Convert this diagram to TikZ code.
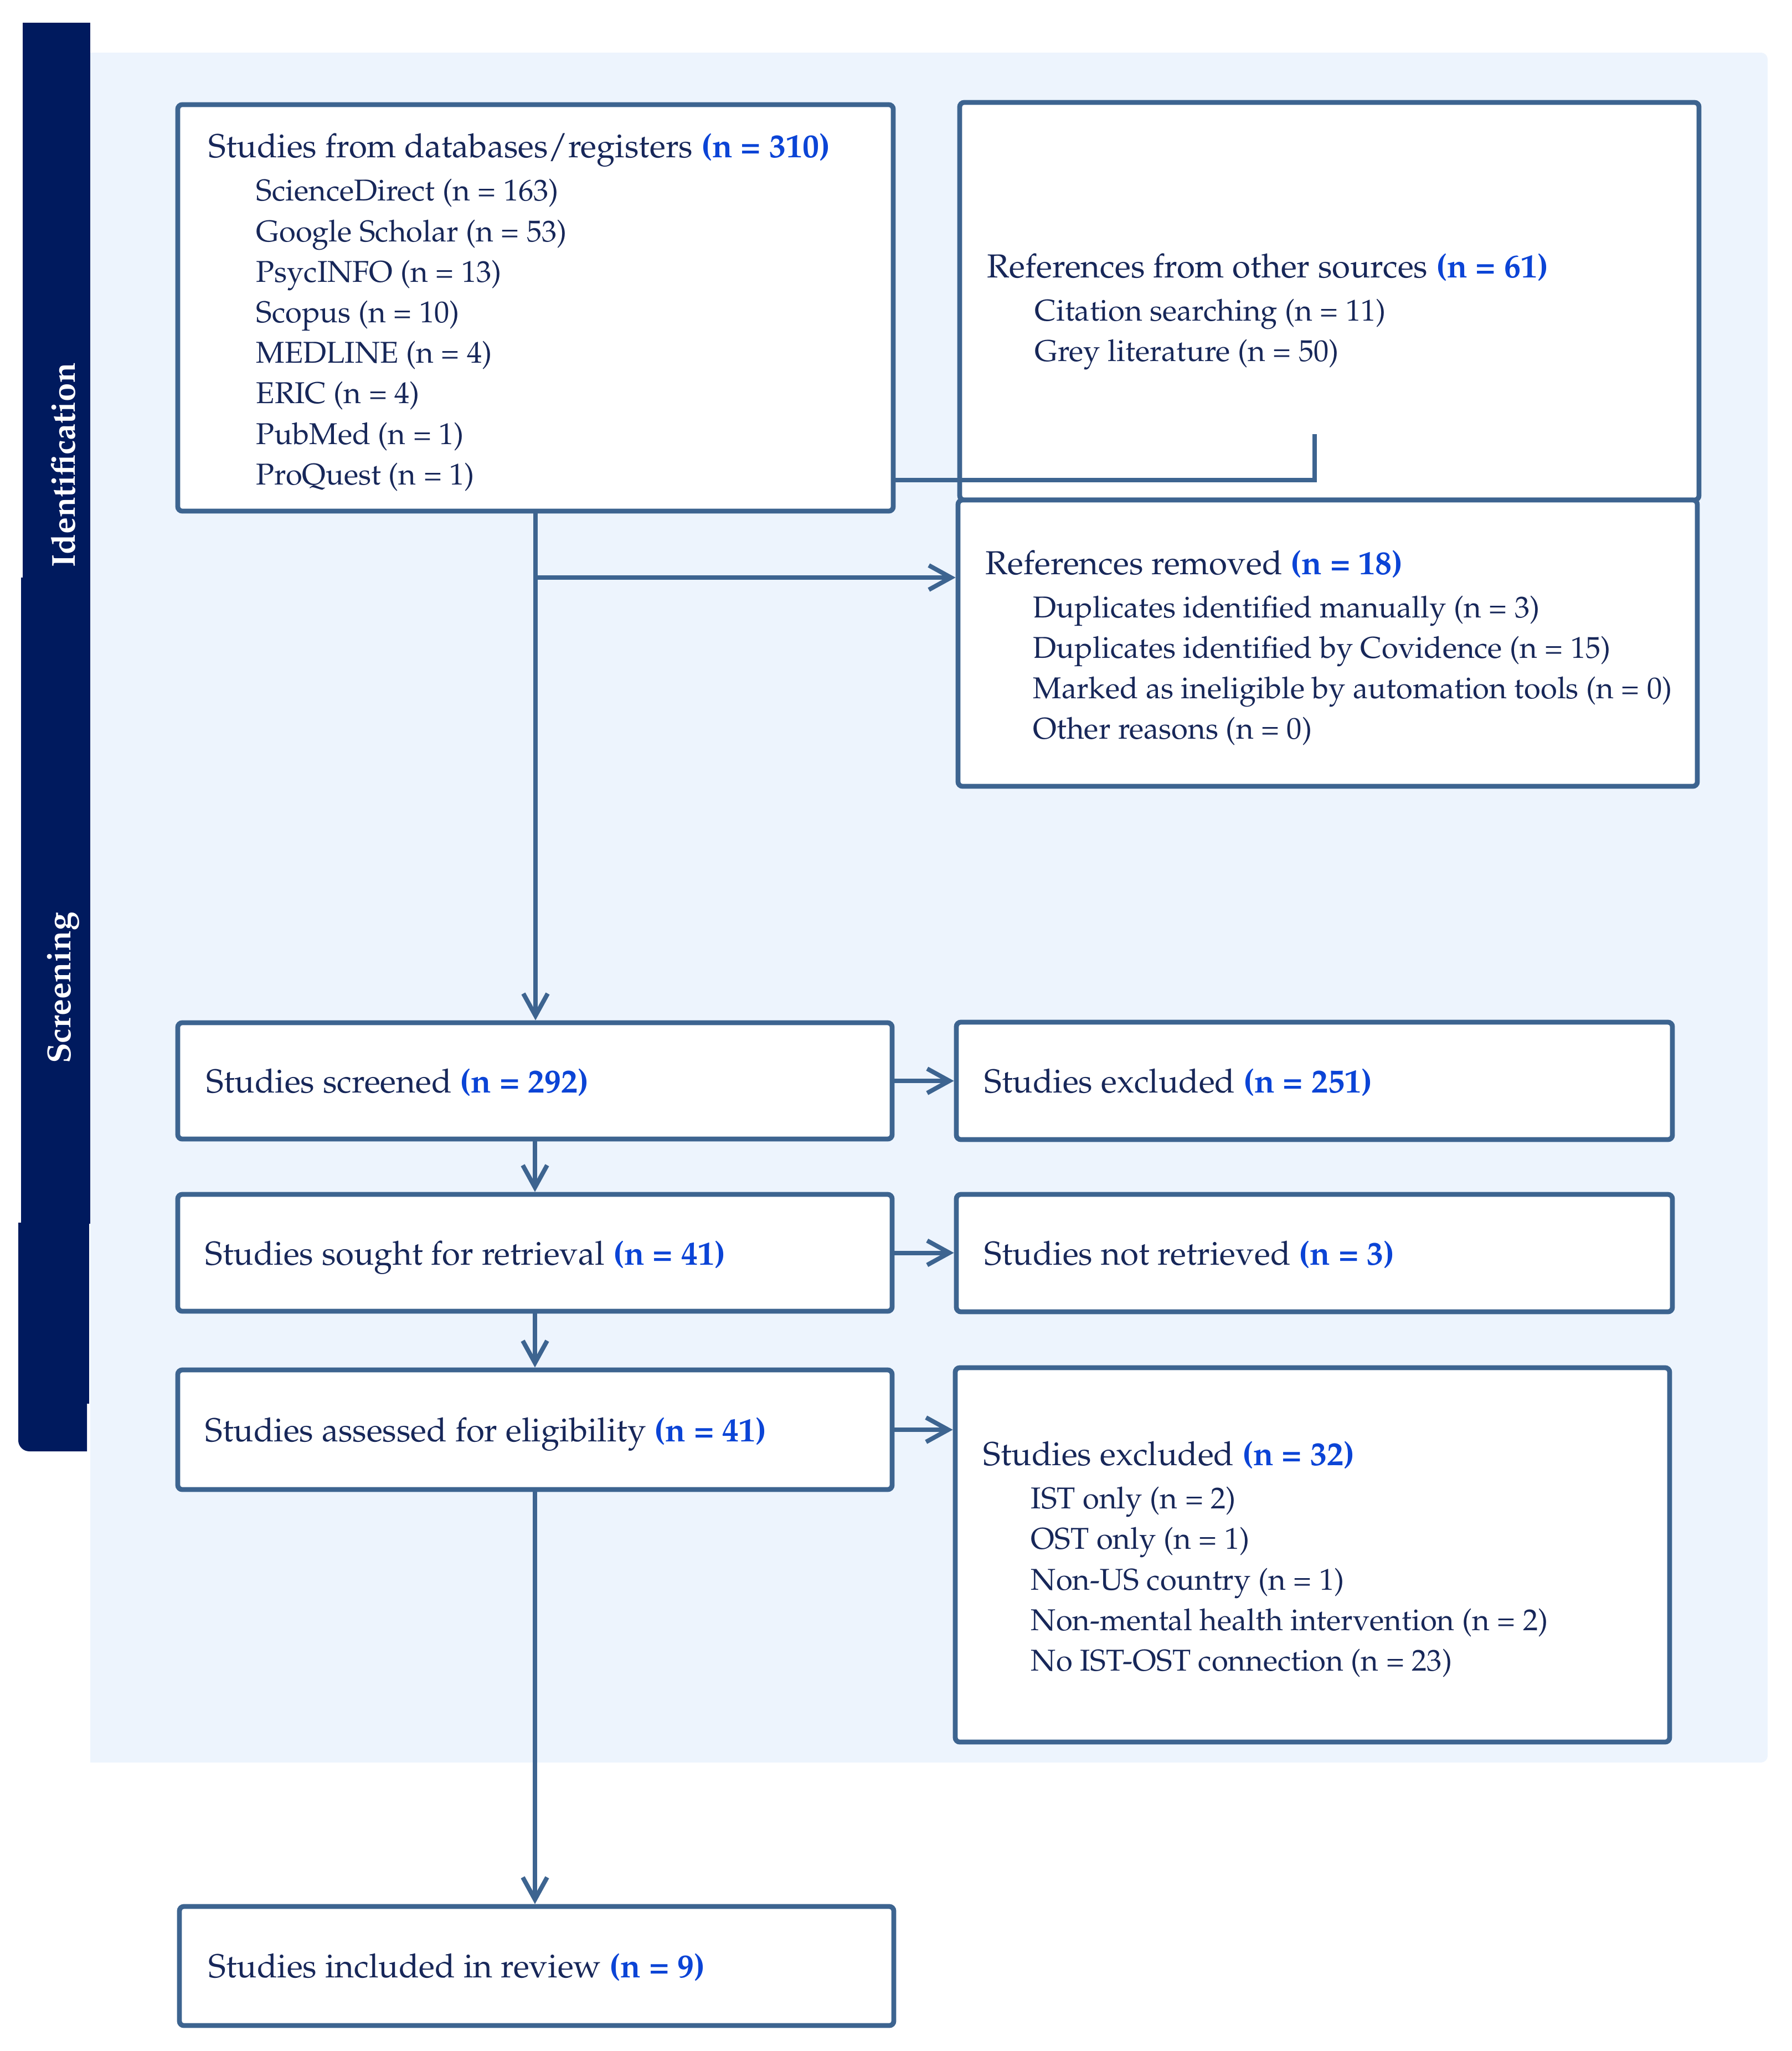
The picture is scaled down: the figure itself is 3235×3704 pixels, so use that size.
\documentclass[tikz,border=0pt]{standalone}
\usepackage[T1]{fontenc}
\usepackage{mathpazo}
\usetikzlibrary{arrows.meta,fit}
\definecolor{navybar}{HTML}{001A5E}
\definecolor{bgblue}{HTML}{EDF4FD}
\definecolor{boxline}{HTML}{3D6490}
\definecolor{txtnavy}{HTML}{172759}
\definecolor{nblue}{HTML}{0B44D6}
\newcommand\nn[1]{\textcolor{nblue}{\textbf{(n = #1)}}}
\newcommand\sm{\fontsize{13.6}{18.3}\selectfont}
\newcommand\ind{\sm\hspace*{21.5pt}}
\begin{document}
\begin{tikzpicture}[x=0.25pt,y=-0.25pt,
  box/.style={draw=boxline, line width=2.2pt, fill=white, rounded corners=2pt, inner sep=0pt},
  txt/.style={text=txtnavy, font=\fontsize{15}{18.3}\selectfont, align=left, inner sep=0pt, anchor=west},
  one/.style={txt, text height=11pt, text depth=3.5pt},
  conn/.style={draw=boxline, line width=1.8pt},
  arr/.style={draw=boxline, line width=2pt, -{Straight Barb[length=10pt,width=11pt,line width=2pt]}},
  lab/.style={text=white, font=\bfseries\fontsize{15}{18}\selectfont, rotate=90, inner sep=0pt}]
\useasboundingbox (0,0) rectangle (3235,3704);
% background
\fill[bgblue] (163,95) [rounded corners=3pt] -- (3192,95) -- (3192,3183) [sharp corners] -- (163,3183) -- cycle;
% side bar
\fill[navybar] (41,41) rectangle (163,1045);
\fill[navybar] (38,1043) rectangle (163,2210);
\fill[navybar] (33,2208) rectangle (161,2535);
\fill[navybar] (157,2530) -- (33,2530) [rounded corners=5pt] -- (33,2621) [sharp corners] -- (157,2621) -- cycle;
\node[lab] (idl) at (114,840) {Identification};
\node[lab] (scl) at (114,1784) {Screening};
% boxes
\node[box, fit={(321,189)(1613,923)}] (A) {};
\node[box, fit={(1733,185)(3068,903)}] (B) {};
\node[box, fit={(1730,903)(3065,1420)}] (C) {};
\node[box, fit={(321,1847)(1611,2057)}] (D) {};
\node[box, fit={(321,2157)(1611,2368)}] (E) {};
\node[box, fit={(321,2474)(1611,2690)}] (F) {};
\node[box, fit={(324,3443)(1614,3658)}] (G) {};
\node[box, fit={(1727,1846)(3020,2058)}] (H) {};
\node[box, fit={(1727,2157)(3020,2369)}] (I) {};
\node[box, fit={(1725,2470)(3015,3146)}] (J) {};
% texts
\node[txt] (At) at (376,564) {Studies from databases/registers \nn{310}\\[1.2pt]
\ind ScienceDirect (n = 163)\\
\ind Google Scholar (n = 53)\\
\ind PsycINFO (n = 13)\\
\ind Scopus (n = 10)\\
\ind MEDLINE (n = 4)\\
\ind ERIC (n = 4)\\
\ind PubMed (n = 1)\\
\ind ProQuest (n = 1)};
\node[txt] (Bt) at (1782,563) {References from other sources \nn{61}\\[1.2pt]
\ind Citation searching (n = 11)\\
\ind Grey literature (n = 50)};
\node[txt] (Ct) at (1779,1170) {References removed \nn{18}\\[1.2pt]
\ind Duplicates identified manually (n = 3)\\
\ind Duplicates identified by Covidence (n = 15)\\
\ind Marked as ineligible by automation tools (n = 0)\\
\ind Other reasons (n = 0)};
\node[one] (Dt) at (372,1958) {Studies screened \nn{292}};
\node[one] (Et) at (370,2269) {Studies sought for retrieval \nn{41}};
\node[one] (Ft) at (370,2588) {Studies assessed for eligibility \nn{41}};
\node[one] (Gt) at (376,3556) {Studies included in review \nn{9}};
\node[one] (Ht) at (1777,1958) {Studies excluded \nn{251}};
\node[one] (It) at (1777,2269) {Studies not retrieved \nn{3}};
\node[txt] (Jt) at (1775,2816) {Studies excluded \nn{32}\\[1.2pt]
\ind IST only (n = 2)\\
\ind OST only (n = 1)\\
\ind Non-US country (n = 1)\\
\ind Non-mental health intervention (n = 2)\\
\ind No IST-OST connection (n = 23)};
% connectors
\coordinate (kc) at (2374,867);
\coordinate (kt) at (2374,784);
\draw[conn] (A.east |- kc) -- (kc) -- (kt);
\coordinate (brk) at (0,1043);
\draw[arr] (A.south) -- (A.south |- D.north);
\draw[arr] (A.south |- brk) -- (C.west |- brk);
\draw[arr] (D.south) -- (E.north);
\draw[arr] (E.south) -- (F.north);
\draw[arr] (F.south) -- (F.south |- G.north);
\draw[arr] (D.east) -- (D.east -| H.west);
\draw[arr] (E.east) -- (E.east -| I.west);
\draw[arr] (F.east) -- (F.east -| J.west);
\end{tikzpicture}
\end{document}
